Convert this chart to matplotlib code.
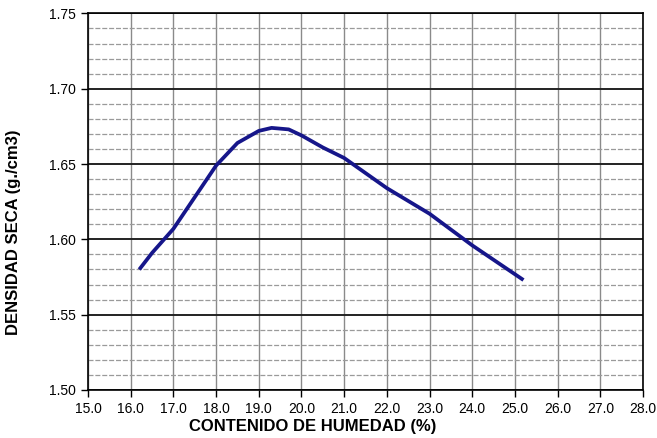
import matplotlib
matplotlib.use("Agg")
import matplotlib.pyplot as plt
from matplotlib.ticker import MultipleLocator, FormatStrFormatter

plt.rcParams['font.family'] = ['Liberation Sans', 'DejaVu Sans']

humedad = [16.2, 16.5, 17.0, 17.5, 18.0, 18.5, 19.0, 19.3, 19.7, 20.0, 20.5, 21.0, 22.0, 23.0, 24.0, 25.2]
densidad = [1.580, 1.591, 1.607, 1.628, 1.649, 1.664, 1.672, 1.674, 1.673, 1.669, 1.661, 1.654, 1.634, 1.617, 1.596, 1.573]

x_label = "CONTENIDO DE HUMEDAD (%)"
y_label = "DENSIDAD SECA (g./cm3)"

fig = plt.figure(figsize=(6.57, 4.38), dpi=100)
ax = fig.add_axes([0.134, 0.1096, 0.8447, 0.8598])

ax.set_xlim(15.0, 28.0)
ax.set_ylim(1.50, 1.75)
ax.xaxis.set_major_locator(MultipleLocator(1.0))
ax.yaxis.set_major_locator(MultipleLocator(0.05))
ax.yaxis.set_minor_locator(MultipleLocator(0.01))
ax.xaxis.set_major_formatter(FormatStrFormatter('%.1f'))
ax.yaxis.set_major_formatter(FormatStrFormatter('%.2f'))

ax.grid(True, axis='x', which='major', color='#8a8a8a', linewidth=1.0)
ax.grid(True, axis='y', which='minor', color='#9a9a9a', linewidth=0.9, linestyle=(0, (4, 1.5)))
ax.grid(True, axis='y', which='major', color='#222222', linewidth=1.4)
ax.set_axisbelow(True)

ax.tick_params(axis='both', which='major', direction='out', length=5, width=1, labelsize=10, colors='black')
ax.tick_params(axis='y', which='minor', length=0)
for s in ax.spines.values():
    s.set_color('black')
    s.set_linewidth(1.2)

ax.plot(humedad, densidad, color='#16168a', linewidth=2.7, solid_capstyle='butt',
        solid_joinstyle='round', zorder=3)

fig.text(313/657, 1 - 427/438, x_label, ha='center', va='center', fontsize=12, fontweight='bold')
fig.text(14/657, 1 - 232/438, y_label, ha='center', va='center', rotation=90, fontsize=12, fontweight='bold')

fig.savefig("out.png", dpi=100)
